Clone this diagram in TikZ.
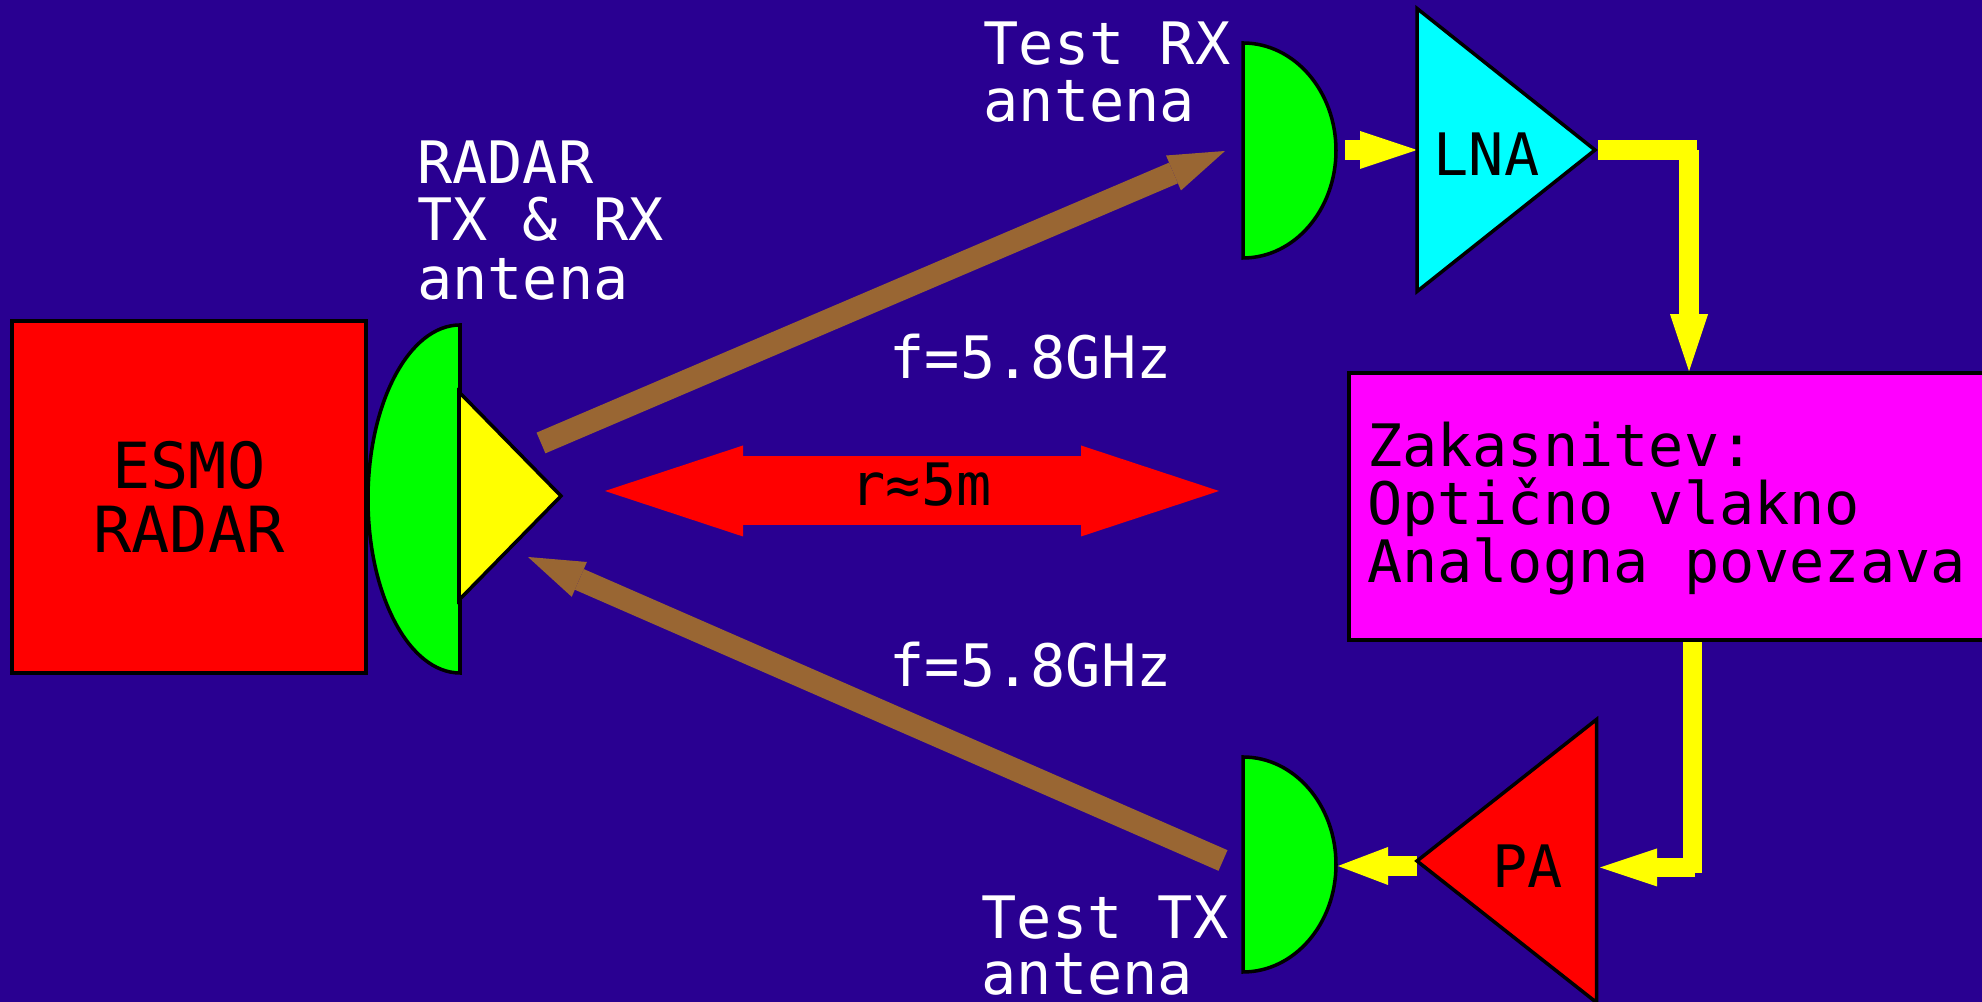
\documentclass[tikz,border=0pt]{standalone}
\usepackage{fontspec}
\setmainfont{DejaVu Sans Mono}
\usetikzlibrary{shapes.geometric,arrows.meta,backgrounds}
\definecolor{bgblue}{RGB}{41,0,145}
\definecolor{wavebrown}{RGB}{153,102,51}
\definecolor{feedyellow}{RGB}{255,255,0}
\definecolor{lnacyan}{RGB}{0,255,255}
\definecolor{delaymagenta}{RGB}{255,0,255}

\begin{document}
\begin{tikzpicture}[
        box/.style={rectangle, draw=black, line width=1pt, text=black},
        amp/.style={isosceles triangle, isosceles triangle stretches, draw=black, line width=1pt, inner sep=0pt, outer sep=0pt},
        lens/.style={draw=black, line width=1pt, fill=green},
        lbl/.style={text=white, inner sep=0pt, font=\fontsize{16.65}{16.35}\selectfont},
        ampname/.style={text=black, inner sep=0pt, font=\fontsize{16.65}{16.35}\selectfont},
        wave/.style={-{Triangle[length=5.6mm, width=3.8mm, line width=0pt]}, line width=2.25mm, color=wavebrown},
        yline/.style={line width=1.95mm, color=feedyellow},
        yarrow/.style={yline, -{Triangle[length=5.7mm, width=3.8mm, line width=0pt]}}
    ]
    \useasboundingbox (0,0) rectangle (19.82,10.02);
    \begin{scope}[on background layer]
    \fill[bgblue] (0,0) rectangle (19.82,10.02);
    \end{scope}

    % blocks
    \node[box, fill=red, minimum width=3.535cm, minimum height=3.52cm, align=center, font=\fontsize{18.1}{18.3}\selectfont] (radar) at (1.89,5.05) {ESMO\\RADAR};
    \node[box, fill=delaymagenta, minimum width=6.51cm, minimum height=2.67cm, inner xsep=0.18cm, text width=6.15cm, align=flush left, font=\fontsize{16.65}{16.6}\selectfont] (delay) at (16.745,4.955) {\rule{0pt}{13.8pt}Zakasnitev:\\Optično vlakno\\Analogna povezava};

    % antennas
    \draw[lens] (4.60,6.77) arc[start angle=90, end angle=270, x radius=0.92, y radius=1.74] -- cycle;
    \draw[lens] (12.43,9.59) arc[start angle=90, end angle=-90, x radius=0.93, y radius=1.075] -- cycle;
    \draw[lens] (12.43,2.45) arc[start angle=90, end angle=-90, x radius=0.93, y radius=1.075] -- cycle;

    \node[amp, fill=feedyellow, minimum height=1.02cm, minimum width=2.08cm, anchor=lower side] (feed) at (4.59,5.06) {};
    \node[amp, fill=lnacyan, minimum height=1.78cm, minimum width=2.83cm, anchor=lower side] (lna) at (14.17,8.52) {};
    \node[amp, fill=red, shape border rotate=180, minimum height=1.795cm, minimum width=2.83cm, anchor=lower side] (pa) at (15.965,1.41) {};

    % texts
    \node[ampname, anchor=base west] (lnaname) at (14.33,8.26) {LNA};
    \node[ampname, anchor=base west] (paname) at (14.92,1.145) {PA};
    \node[lbl, anchor=base west] (rxname) at (9.83,9.37) {Test RX};
    \node[lbl, anchor=base west] (rxant) at (9.83,8.80) {antena};
    \node[lbl, anchor=base west] (txname) at (9.81,0.63) {Test TX};
    \node[lbl, anchor=base west, text depth=0pt] (txant) at (9.81,0.07) {antena};
    \node[lbl, anchor=base west] (feedname) at (4.165,8.18) {RADAR};
    \node[lbl, anchor=base west] (feedtx) at (4.165,7.61) {TX \& RX};
    \node[lbl, anchor=base west] (feedant) at (4.165,7.02) {antena};
    \node[lbl, anchor=base west] (upfreq) at (8.89,6.23) {f=5.8GHz};
    \node[lbl, anchor=base west] (downfreq) at (8.89,3.15) {f=5.8GHz};

    % connector ends
    \coordinate (upstart) at (5.41,5.59);
    \coordinate (upend) at (12.25,8.51);
    \coordinate (downstart) at (12.23,1.415);
    \coordinate (downend) at (5.28,4.45);
    \coordinate (rleft) at (6.05,5.11);
    \coordinate (rright) at (12.19,5.11);
    \coordinate (rxout) at (13.45,8.52);
    \coordinate (lnaturn) at (16.97,8.52);
    \coordinate (lnadown) at (16.89,8.52);
    \coordinate (delaydown) at (16.925,1.29);
    \coordinate (pastart) at (16.95,1.345);
    \coordinate (pain) at (16.00,1.345);
    \coordinate (txin) at (13.38,1.36);

    \begin{scope}[on background layer]
    \draw[wave] (upstart) -- (upend);
    \draw[wave] (downstart) -- (downend);
    \draw[{Triangle[length=13.8mm, width=9.1mm, line width=0pt]}-{Triangle[length=13.8mm, width=9.1mm, line width=0pt]}, line width=6.9mm, color=red] (rleft) -- (rright);
    \draw[yarrow] (rxout) -- (lna.lower side);
    \draw[yline, shorten <=0.3mm] (lna.apex) -- (lnaturn);
    \draw[yarrow] (lnadown) -- (lnadown |- delay.north);
    \draw[yline] (delaydown |- delay.south) -- (delaydown);
    \draw[yarrow] (pastart) -- (pain);
    \draw[yline, -{Triangle[length=5mm, width=3.8mm, line width=0pt]}] (pa.apex |- txin) -- (txin);
    \end{scope}

    \node[ampname, anchor=base] (range) at (9.21,4.96) {r≈5m};
\end{tikzpicture}
\end{document}
